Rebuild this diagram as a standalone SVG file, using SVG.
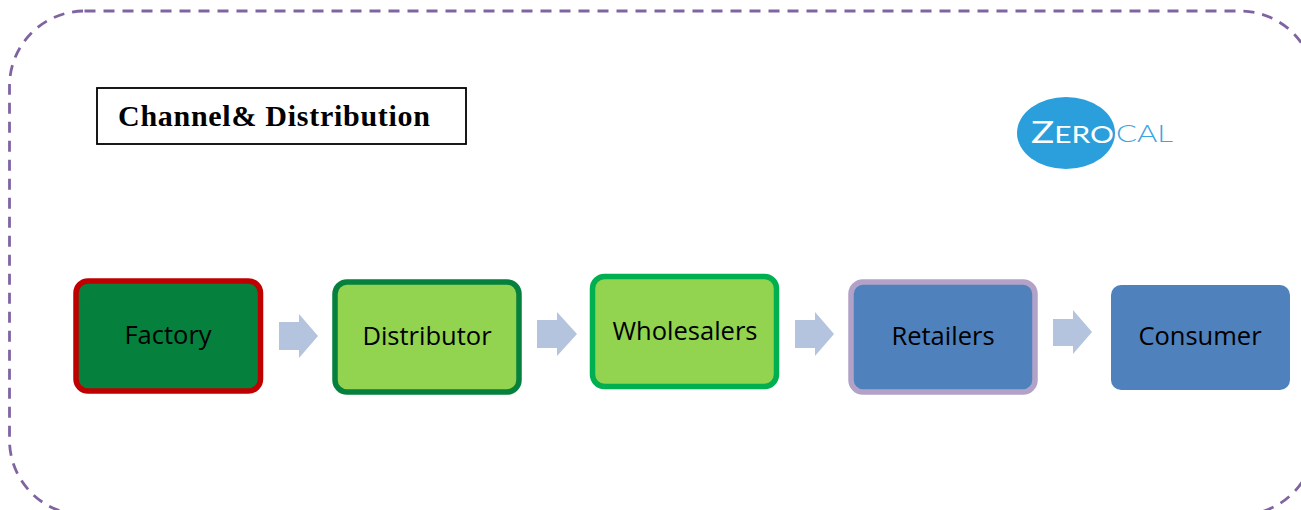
<svg xmlns="http://www.w3.org/2000/svg" width="1301" height="510" viewBox="0 0 1301 510">
<style>
.t{font-family:"Open Sans","Noto Sans",sans-serif;font-size:25.500px;fill:#000;text-anchor:middle}
.arrow{fill:#b4c4de}
.box{stroke-width:5.500}
</style>
<rect width="1301" height="510" fill="#fff"/>
<rect id="frame" x="9.500" y="11" width="1305.500" height="504" rx="75" ry="75" fill="none" stroke="#8064a2" stroke-width="2.800" stroke-dasharray="11 8"/>
<g id="title">
<rect x="97" y="88" width="369" height="56" fill="#fff" stroke="#000" stroke-width="1.800"/>
<text x="118" y="126" font-family="'Liberation Serif',serif" font-weight="700" font-size="30" fill="#000" textLength="312" lengthAdjust="spacing">Channel&amp; Distribution</text>
</g>
<g id="logo">
<ellipse cx="1066" cy="133" rx="49" ry="36" fill="#2a9fdc"/>
<text x="1031" y="143" font-family="'Lato',sans-serif" font-size="24" fill="#fff" textLength="83" lengthAdjust="spacingAndGlyphs"><tspan font-size="31">Z</tspan>ERO</text>
<text x="1116" y="142" font-family="'Lato',sans-serif" font-weight="300" font-size="24" fill="#3ba5de" textLength="57" lengthAdjust="spacingAndGlyphs">CAL</text>
</g>
<g id="factory"><rect class="box" x="76" y="281" width="184.500" height="110" rx="12" fill="#05803d" stroke="#c00000"/><text class="t" x="168" y="344">Factory</text></g>
<g id="distributor"><rect class="box" x="335" y="282" width="184" height="110" rx="12" fill="#92d350" stroke="#05803d"/><text class="t" x="427" y="345">Distributor</text></g>
<g id="wholesalers"><rect class="box" x="592.500" y="276.500" width="184" height="110" rx="12" fill="#92d350" stroke="#00b050"/><text class="t" x="685" y="340">Wholesalers</text></g>
<g id="retailers"><rect class="box" x="851" y="282" width="184" height="110" rx="12" fill="#4f81bd" stroke="#b3a2c7"/><text class="t" x="943" y="345">Retailers</text></g>
<g id="consumer"><rect x="1111" y="285" width="179" height="105" rx="10" fill="#4f81bd"/><text class="t" x="1200" y="345">Consumer</text></g>
<g id="connectors">
<polygon class="arrow" points="279,322 299,322 299,314 318,336 299,358 299,350 279,350"/>
<polygon class="arrow" points="537,320 557,320 557,312 577,334 557,356 557,348 537,348"/>
<polygon class="arrow" points="795,320 815,320 815,312 834,334 815,356 815,348 795,348"/>
<polygon class="arrow" points="1053,319 1073,319 1073,310 1092,332 1073,354 1073,346 1053,346"/>
</g>
</svg>
